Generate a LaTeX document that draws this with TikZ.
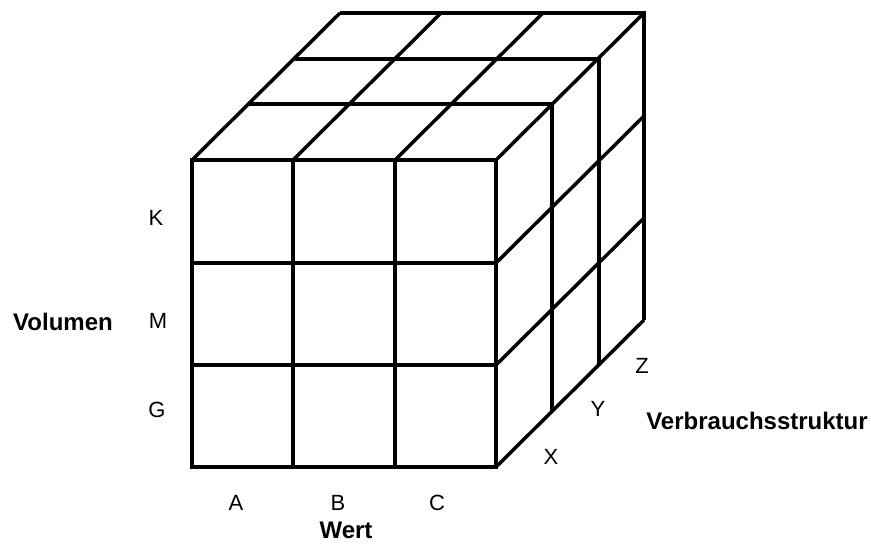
\documentclass[tikz,border=0pt]{standalone}
\usepackage{fontspec}
\setmainfont{Liberation Sans}
\begin{document}
\begin{tikzpicture}[x=1pt,y=-1pt,line width=3.5pt,line join=miter,
  lbl/.style={inner sep=0pt,font=\fontsize{22}{22}\selectfont},
  title/.style={inner sep=0pt,font=\fontsize{24}{24}\selectfont\bfseries}]
\useasboundingbox (0,0) rectangle (871,545);
% front face
\draw (192,160) rectangle (496,467);
\foreach \x in {293,395} \draw (\x,160) -- (\x,467);
\foreach \y in {263,365} \draw (192,\y) -- (496,\y);
% depth layers
\foreach \dx/\dy in {56/-56,103/-101,148/-147}
  \draw (192+\dx,160+\dy) -- (496+\dx,160+\dy) -- (496+\dx,467+\dy);
% receding edges
\foreach \x in {192,293,395,496} \draw (\x,160) -- ++(148,-147);
\foreach \y in {263,365,467} \draw (496,\y) -- ++(148,-147);
% labels
\node[lbl] (k) at (156,218) {K};
\node[lbl] (m) at (158,321) {M};
\node[lbl] (g) at (157,410) {G};
\node[title] (vol) at (63,322) {Volumen};
\node[lbl] (a) at (236,503) {A};
\node[lbl] (b) at (338,503) {B};
\node[lbl] (c) at (437,503) {C};
\node[title] (wert) at (346,530) {Wert};
\node[lbl] (x) at (551,457) {X};
\node[lbl] (y) at (598,409) {Y};
\node[lbl] (z) at (642,366) {Z};
\node[title] (vs) at (757,421) {Verbrauchsstruktur};
\end{tikzpicture}
\end{document}
